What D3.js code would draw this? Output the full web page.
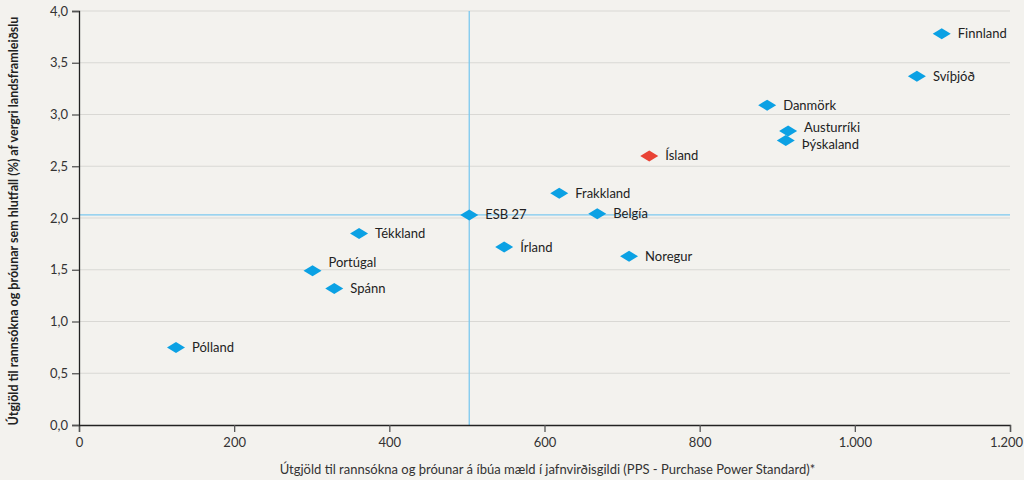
<!DOCTYPE html>
<html>
<head>
<meta charset="utf-8">
<script src="https://cdn.jsdelivr.net/npm/d3@7"></script>
<style>
  body { margin: 0; background: #f3f2ee; }
  svg { display: block; font-family: "Lato", "Open Sans", sans-serif; }
</style>
</head>
<body>
<div id="chart"></div>
<script>
// values
var countries = ["Finnland", "Svíþjóð", "Danmörk", "Austurríki", "Þýskaland", "Ísland", "Frakkland",
                 "ESB 27", "Belgía", "Írland", "Noregur", "Tékkland", "Portúgal", "Spánn", "Pólland"];
var perCapita = [1112, 1080, 887, 914, 911, 735, 619, 503, 668, 548, 709, 361, 301, 329, 125];
var shareGdp  = [3.78, 3.37, 3.09, 2.84, 2.75, 2.60, 2.24, 2.03, 2.04, 1.72, 1.63, 1.85, 1.49, 1.32, 0.75];
var highlight = "Ísland";
var euX = 503, euY = 2.03;

var xTicks = [0, 200, 400, 600, 800, 1000, 1200];
var yTicks = [0, 0.5, 1, 1.5, 2, 2.5, 3, 3.5, 4];

var width = 1024, height = 480;
var margin = {top: 11, right: 14, bottom: 55, left: 79};

var svg = d3.select("#chart").append("svg")
  .attr("width", width)
  .attr("height", height);

var x = d3.scaleLinear().domain([0, 1200]).range([margin.left, width - margin.right]);
var y = d3.scaleLinear().domain([0, 4]).range([height - margin.bottom, margin.top]);

var fmtY = function(d) { return d3.format(".1f")(d).replace(".", ","); };
var fmtX = function(d) { return d3.format(",")(d).replace(/,/g, "."); };

// gridlines
svg.append("g").selectAll("line")
  .data(yTicks.filter(function(d) { return d > 0; }))
  .enter().append("line")
  .attr("x1", x(0)).attr("x2", x(1200))
  .attr("y1", function(d) { return y(d); })
  .attr("y2", function(d) { return y(d); })
  .style("stroke", "#d9d8d4")
  .style("stroke-width", 1.2);

// EU reference lines
svg.append("line")
  .attr("x1", x(0)).attr("x2", x(1200))
  .attr("y1", y(euY)).attr("y2", y(euY))
  .style("stroke", "#7cc8ef").style("stroke-width", 1.3);
svg.append("line")
  .attr("x1", x(euX)).attr("x2", x(euX))
  .attr("y1", y(0)).attr("y2", y(4))
  .style("stroke", "#7cc8ef").style("stroke-width", 1.3);

// axes
var xAxis = svg.append("g")
  .attr("transform", "translate(0," + y(0) + ")")
  .call(d3.axisBottom(x).tickValues(xTicks).tickFormat(fmtX).tickSizeOuter(0).tickSize(7).tickPadding(6));
var yAxis = svg.append("g")
  .attr("transform", "translate(" + x(0) + ",0)")
  .call(d3.axisLeft(y).tickValues(yTicks).tickFormat(fmtY).tickSizeOuter(0).tickSize(7).tickPadding(4));

[xAxis, yAxis].forEach(function(a) {
  a.select(".domain").style("stroke", "#222").style("stroke-width", 1.3);
  a.selectAll(".tick line").style("stroke", "#555").style("stroke-width", 1.3);
  a.selectAll(".tick text").style("font-size", "13px").style("fill", "#333")
    .style("font-family", "Lato, sans-serif");
});
// keep last x tick label inside the window
xAxis.selectAll(".tick text").filter(function(d) { return d === 1200; }).attr("dx", "-4");

// axis titles
svg.append("text")
  .attr("x", (x(0) + x(1200)) / 2 + 3)
  .attr("y", 474)
  .attr("text-anchor", "middle")
  .style("font-size", "13px")
  .style("fill", "#333")
  .text("Útgjöld til rannsókna og þróunar á íbúa mæld í jafnvirðisgildi (PPS - Purchase Power Standard)*");

svg.append("text")
  .attr("transform", "translate(18," + ((y(0) + y(4)) / 2 + 3) + ")rotate(-90)")
  .attr("text-anchor", "middle")
  .style("font-size", "12.5px")
  .style("font-weight", "bold")
  .style("fill", "#222")
  .text("Útgjöld til rannsókna og þróunar sem hlutfall (%) af vergri landsframleiðslu");

// points
var points = countries.map(function(c, i) {
  return {name: c, px: perCapita[i], py: shareGdp[i]};
});

// small vertical nudges for crowded labels
var labelDy = {"Portúgal": -8, "Austurríki": -4, "Þýskaland": 4};

var diamond = "M-9,0L0,-5.5L9,0L0,5.5Z";

var nodes = svg.append("g").selectAll("g")
  .data(points)
  .enter().append("g")
  .attr("transform", function(d) { return "translate(" + x(d.px) + "," + y(d.py) + ")"; });

nodes.append("path")
  .attr("d", diamond)
  .style("fill", function(d) { return d.name === highlight ? "#e94335" : "#0ba1e4"; });

nodes.append("text")
  .attr("x", 16)
  .attr("y", function(d) { return labelDy[d.name] || 0; })
  .attr("dy", "0.35em")
  .style("font-size", "13px")
  .style("fill", "#222")
  .text(function(d) { return d.name; });
</script>
</body>
</html>
